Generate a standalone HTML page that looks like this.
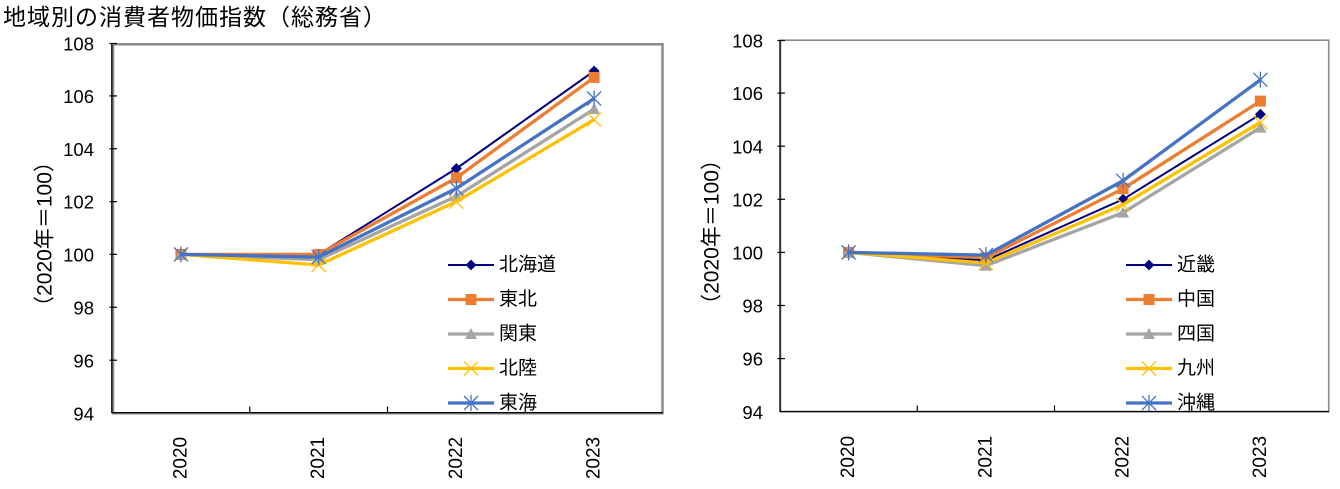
<!DOCTYPE html>
<html>
<head>
<meta charset="utf-8">
<style>
  html,body{margin:0;padding:0;background:#fff;}
  svg{display:block;}
  .num{font-family:"Liberation Sans","Noto Sans CJK JP",sans-serif;fill:#000;}
  .jp{font-family:"Liberation Sans","Noto Sans CJK JP",sans-serif;fill:#000;}
</style>
</head>
<body>
<svg width="1340" height="489" viewBox="0 0 1340 489" xmlns="http://www.w3.org/2000/svg">
  <rect x="0" y="0" width="1340" height="489" fill="#fff"/>

  <!-- Title -->
  <text class="jp" x="3" y="17" font-size="23" letter-spacing="1" dominant-baseline="central">地域別の消費者物価指数（総務省）</text>

  <!-- ================= LEFT CHART ================= -->
  <rect x="113" y="44.3" width="549.5" height="369" fill="none" stroke="#8a8a8a" stroke-width="2.5"/>
  <line x1="111.8" y1="43" x2="111.8" y2="413" stroke="#000" stroke-width="1.3"/>
  <line x1="111.8" y1="412.6" x2="663" y2="412.6" stroke="#000" stroke-width="1.3"/>
  <g stroke="#000" stroke-width="1.2">
    <line x1="109.5" y1="43.5" x2="117" y2="43.5"/>
    <line x1="109.5" y1="95.9" x2="117" y2="95.9"/>
    <line x1="109.5" y1="148.7" x2="117" y2="148.7"/>
    <line x1="109.5" y1="201.6" x2="117" y2="201.6"/>
    <line x1="109.5" y1="254.4" x2="117" y2="254.4"/>
    <line x1="109.5" y1="307.3" x2="117" y2="307.3"/>
    <line x1="109.5" y1="360.2" x2="117" y2="360.2"/>
    <line x1="249.75" y1="406.5" x2="249.75" y2="413"/>
    <line x1="387.5" y1="406.5" x2="387.5" y2="413"/>
    <line x1="525.25" y1="406.5" x2="525.25" y2="413"/>
  </g>
  <g class="num" font-size="18.5" text-anchor="end" dominant-baseline="central">
    <text x="94" y="44">108</text>
    <text x="94" y="96.5">106</text>
    <text x="94" y="149.3">104</text>
    <text x="94" y="202.2">102</text>
    <text x="94" y="255">100</text>
    <text x="94" y="307.9">98</text>
    <text x="94" y="360.8">96</text>
    <text x="94" y="414">94</text>
  </g>
  <text class="jp" font-size="21" text-anchor="middle" dominant-baseline="central" transform="translate(45,234) rotate(-90)">（2020年＝100）</text>
  <g class="num" font-size="19" text-anchor="middle" dominant-baseline="central">
    <text transform="translate(180.9,458) rotate(-90)">2020</text>
    <text transform="translate(318.6,458) rotate(-90)">2021</text>
    <text transform="translate(456.4,458) rotate(-90)">2022</text>
    <text transform="translate(594.1,458) rotate(-90)">2023</text>
  </g>

  <!-- 北海道 navy -->
  <polyline points="180.9,254.4 318.6,254.4 456.4,168.5 594.1,71" fill="none" stroke="#000080" stroke-width="2"/>
  <g fill="#000080">
    <polygon points="180.9,249 186.4,254.4 180.9,259.8 175.4,254.4"/>
    <polygon points="318.6,249 324.1,254.4 318.6,259.8 313.1,254.4"/>
    <polygon points="456.4,163.1 461.9,168.5 456.4,173.9 450.9,168.5"/>
    <polygon points="594.1,65.6 599.6,71 594.1,76.4 588.6,71"/>
  </g>
  <!-- 東北 orange -->
  <polyline points="180.9,254.4 318.6,254.4 456.4,177.8 594.1,77.4" fill="none" stroke="#ED7D31" stroke-width="3.3"/>
  <g fill="#ED7D31">
    <rect x="175.4" y="248.9" width="11" height="11"/>
    <rect x="313.1" y="248.9" width="11" height="11"/>
    <rect x="450.9" y="172.3" width="11" height="11"/>
    <rect x="588.6" y="71.9" width="11" height="11"/>
  </g>
  <!-- 関東 gray -->
  <polyline points="180.9,254.4 318.6,259.7 456.4,196.3 594.1,109.1" fill="none" stroke="#A5A5A5" stroke-width="3.3"/>
  <g fill="#A5A5A5">
    <polygon points="180.9,248.4 186.9,259.4 174.9,259.4"/>
    <polygon points="318.6,253.7 324.6,264.7 312.6,264.7"/>
    <polygon points="456.4,190.3 462.4,201.3 450.4,201.3"/>
    <polygon points="594.1,103.1 600.1,114.1 588.1,114.1"/>
  </g>
  <!-- 北陸 yellow -->
  <polyline points="180.9,254.4 318.6,265 456.4,201.6 594.1,119.6" fill="none" stroke="#FFC000" stroke-width="3.3"/>
  <g stroke="#FFC000" stroke-width="1.3" fill="none">
    <path d="M173.9,247.4 L187.9,261.4 M187.9,247.4 L173.9,261.4"/>
    <path d="M311.6,258 L325.6,272 M325.6,258 L311.6,272"/>
    <path d="M449.4,194.6 L463.4,208.6 M463.4,194.6 L449.4,208.6"/>
    <path d="M587.1,112.6 L601.1,126.6 M601.1,112.6 L587.1,126.6"/>
  </g>
  <!-- 東海 blue -->
  <polyline points="180.9,254.4 318.6,257.1 456.4,188.4 594.1,98.5" fill="none" stroke="#4472C4" stroke-width="3.3"/>
  <g stroke="#4472C4" stroke-width="1.3" fill="none">
    <path d="M173.9,247.4 L187.9,261.4 M187.9,247.4 L173.9,261.4 M180.9,246.4 L180.9,262.4"/>
    <path d="M311.6,250.1 L325.6,264.1 M325.6,250.1 L311.6,264.1 M318.6,249.1 L318.6,265.1"/>
    <path d="M449.4,181.4 L463.4,195.4 M463.4,181.4 L449.4,195.4 M456.4,180.4 L456.4,196.4"/>
    <path d="M587.1,91.5 L601.1,105.5 M601.1,91.5 L587.1,105.5 M594.1,90.5 L594.1,106.5"/>
  </g>

  <!-- legend left -->
  <g>
    <line x1="448" y1="265" x2="494" y2="265" stroke="#000080" stroke-width="2"/>
    <polygon points="471,259.6 476.4,265 471,270.4 465.6,265" fill="#000080"/>
    <line x1="448" y1="299.5" x2="494" y2="299.5" stroke="#ED7D31" stroke-width="3.3"/>
    <rect x="465.5" y="294" width="11" height="11" fill="#ED7D31"/>
    <line x1="448" y1="334" x2="494" y2="334" stroke="#A5A5A5" stroke-width="3.3"/>
    <polygon points="471,328 477,339 465,339" fill="#A5A5A5"/>
    <line x1="448" y1="368.5" x2="494" y2="368.5" stroke="#FFC000" stroke-width="3.3"/>
    <path d="M464,361.5 L478,375.5 M478,361.5 L464,375.5" stroke="#FFC000" stroke-width="1.3"/>
    <line x1="448" y1="403" x2="494" y2="403" stroke="#4472C4" stroke-width="3.3"/>
    <path d="M464,396 L478,410 M478,396 L464,410 M471,395 L471,411" stroke="#4472C4" stroke-width="1.3"/>
  </g>
  <g class="jp" font-size="19" dominant-baseline="central">
    <text x="499" y="265">北海道</text>
    <text x="499" y="299.5">東北</text>
    <text x="499" y="334">関東</text>
    <text x="499" y="368.5">北陸</text>
    <text x="499" y="403">東海</text>
  </g>

  <!-- ================= RIGHT CHART ================= -->
  <rect x="780.5" y="40.2" width="548.2" height="371.3" fill="none" stroke="#8a8a8a" stroke-width="1.6"/>
  <line x1="780" y1="40" x2="780" y2="412" stroke="#000" stroke-width="1.3"/>
  <line x1="780" y1="411.6" x2="1329" y2="411.6" stroke="#000" stroke-width="1.3"/>
  <g stroke="#000" stroke-width="1.2">
    <line x1="777.5" y1="40.5" x2="785" y2="40.5"/>
    <line x1="777.5" y1="93.1" x2="785" y2="93.1"/>
    <line x1="777.5" y1="146.2" x2="785" y2="146.2"/>
    <line x1="777.5" y1="199.3" x2="785" y2="199.3"/>
    <line x1="777.5" y1="252.4" x2="785" y2="252.4"/>
    <line x1="777.5" y1="305.5" x2="785" y2="305.5"/>
    <line x1="777.5" y1="358.6" x2="785" y2="358.6"/>
    <line x1="917.25" y1="405.5" x2="917.25" y2="412"/>
    <line x1="1054.5" y1="405.5" x2="1054.5" y2="412"/>
    <line x1="1191.75" y1="405.5" x2="1191.75" y2="412"/>
  </g>
  <g class="num" font-size="18.5" text-anchor="end" dominant-baseline="central">
    <text x="763" y="41">108</text>
    <text x="763" y="93.7">106</text>
    <text x="763" y="146.8">104</text>
    <text x="763" y="199.9">102</text>
    <text x="763" y="253">100</text>
    <text x="763" y="306.1">98</text>
    <text x="763" y="359.2">96</text>
    <text x="763" y="412.3">94</text>
  </g>
  <text class="jp" font-size="21" text-anchor="middle" dominant-baseline="central" transform="translate(712,232) rotate(-90)">（2020年＝100）</text>
  <g class="num" font-size="19" text-anchor="middle" dominant-baseline="central">
    <text transform="translate(848.6,457) rotate(-90)">2020</text>
    <text transform="translate(985.9,457) rotate(-90)">2021</text>
    <text transform="translate(1123.1,457) rotate(-90)">2022</text>
    <text transform="translate(1260.4,457) rotate(-90)">2023</text>
  </g>

  <!-- 近畿 navy -->
  <polyline points="848.6,252.4 985.9,260.4 1123.1,199.3 1260.4,114.3" fill="none" stroke="#000080" stroke-width="2"/>
  <g fill="#000080">
    <polygon points="848.6,247 854.1,252.4 848.6,257.8 843.1,252.4"/>
    <polygon points="985.9,255 991.4,260.4 985.9,265.8 980.4,260.4"/>
    <polygon points="1123.1,193.9 1128.6,199.3 1123.1,204.7 1117.6,199.3"/>
    <polygon points="1260.4,108.9 1265.9,114.3 1260.4,119.7 1254.9,114.3"/>
  </g>
  <!-- 中国 orange -->
  <polyline points="848.6,252.4 985.9,257.7 1123.1,188.7 1260.4,101.1" fill="none" stroke="#ED7D31" stroke-width="3.3"/>
  <g fill="#ED7D31">
    <rect x="843.1" y="246.9" width="11" height="11"/>
    <rect x="980.4" y="252.2" width="11" height="11"/>
    <rect x="1117.6" y="183.2" width="11" height="11"/>
    <rect x="1254.9" y="95.6" width="11" height="11"/>
  </g>
  <!-- 四国 gray -->
  <polyline points="848.6,252.4 985.9,265.7 1123.1,212.6 1260.4,127.6" fill="none" stroke="#A5A5A5" stroke-width="3.3"/>
  <g fill="#A5A5A5">
    <polygon points="848.6,246.4 854.6,257.4 842.6,257.4"/>
    <polygon points="985.9,259.7 991.9,270.7 979.9,270.7"/>
    <polygon points="1123.1,206.6 1129.1,217.6 1117.1,217.6"/>
    <polygon points="1260.4,121.6 1266.4,132.6 1254.4,132.6"/>
  </g>
  <!-- 九州 yellow -->
  <polyline points="848.6,252.4 985.9,263 1123.1,204.6 1260.4,122.3" fill="none" stroke="#FFC000" stroke-width="3.3"/>
  <g stroke="#FFC000" stroke-width="1.3" fill="none">
    <path d="M841.6,245.4 L855.6,259.4 M855.6,245.4 L841.6,259.4"/>
    <path d="M978.9,256 L992.9,270 M992.9,256 L978.9,270"/>
    <path d="M1116.1,197.6 L1130.1,211.6 M1130.1,197.6 L1116.1,211.6"/>
    <path d="M1253.4,115.3 L1267.4,129.3 M1267.4,115.3 L1253.4,129.3"/>
  </g>
  <!-- 沖縄 blue -->
  <polyline points="848.6,252.4 985.9,255.1 1123.1,180.7 1260.4,79.8" fill="none" stroke="#4472C4" stroke-width="3.3"/>
  <g stroke="#4472C4" stroke-width="1.3" fill="none">
    <path d="M841.6,245.4 L855.6,259.4 M855.6,245.4 L841.6,259.4 M848.6,244.4 L848.6,260.4"/>
    <path d="M978.9,248.1 L992.9,262.1 M992.9,248.1 L978.9,262.1 M985.9,247.1 L985.9,263.1"/>
    <path d="M1116.1,173.7 L1130.1,187.7 M1130.1,173.7 L1116.1,187.7 M1123.1,172.7 L1123.1,188.7"/>
    <path d="M1253.4,72.8 L1267.4,86.8 M1267.4,72.8 L1253.4,86.8 M1260.4,71.8 L1260.4,87.8"/>
  </g>

  <!-- legend right -->
  <g>
    <line x1="1126" y1="265" x2="1172" y2="265" stroke="#000080" stroke-width="2"/>
    <polygon points="1149,259.6 1154.4,265 1149,270.4 1143.6,265" fill="#000080"/>
    <line x1="1126" y1="299.5" x2="1172" y2="299.5" stroke="#ED7D31" stroke-width="3.3"/>
    <rect x="1143.5" y="294" width="11" height="11" fill="#ED7D31"/>
    <line x1="1126" y1="334" x2="1172" y2="334" stroke="#A5A5A5" stroke-width="3.3"/>
    <polygon points="1149,328 1155,339 1143,339" fill="#A5A5A5"/>
    <line x1="1126" y1="368.5" x2="1172" y2="368.5" stroke="#FFC000" stroke-width="3.3"/>
    <path d="M1142,361.5 L1156,375.5 M1156,361.5 L1142,375.5" stroke="#FFC000" stroke-width="1.3"/>
    <line x1="1126" y1="403" x2="1172" y2="403" stroke="#4472C4" stroke-width="3.3"/>
    <path d="M1142,396 L1156,410 M1156,396 L1142,410 M1149,395 L1149,411" stroke="#4472C4" stroke-width="1.3"/>
  </g>
  <g class="jp" font-size="19" dominant-baseline="central">
    <text x="1177" y="265">近畿</text>
    <text x="1177" y="299.5">中国</text>
    <text x="1177" y="334">四国</text>
    <text x="1177" y="368.5">九州</text>
    <text x="1177" y="403">沖縄</text>
  </g>
</svg>
</body>
</html>
